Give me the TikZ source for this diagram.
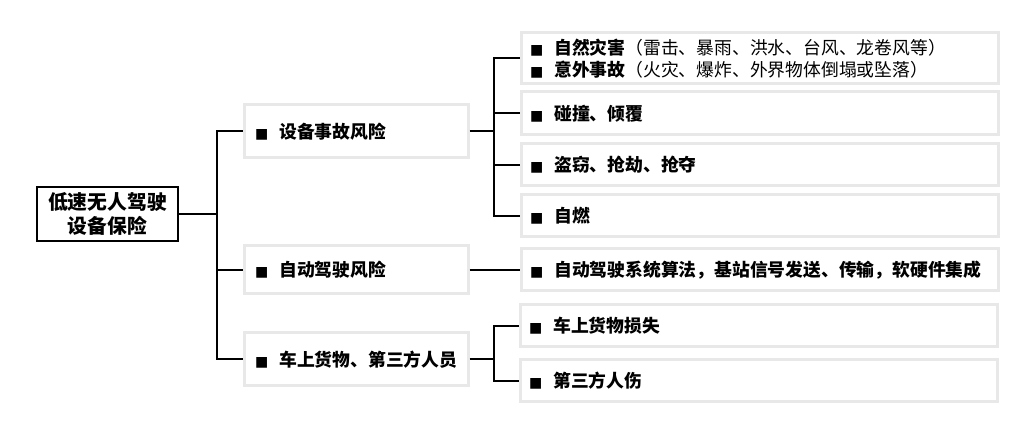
\documentclass[tikz,border=0pt]{standalone}
\usepackage{fontspec}
\setmainfont{Noto Sans CJK SC}
\newfontfamily\bulfont{DejaVu Sans}
\definecolor{boxgray}{HTML}{E8E8E8}
\newcommand{\mybul}{{\bulfont\fontsize{14}{14}\selectfont ■}\nobreak\hspace{11pt}\nobreak}
\begin{document}
\begin{tikzpicture}[x=1pt,y=-1pt,
  rootbox/.style={draw=black, line width=1.6pt, rectangle, inner sep=0pt,
    minimum width=141pt, minimum height=54pt, align=center,
    font=\fontsize{19.8}{24}\selectfont\bfseries},
  midbox/.style={draw=boxgray, line width=3pt, rectangle, inner xsep=11pt, inner ysep=0pt,
    text width=202pt, minimum height=#1, align=left,
    font=\fontsize{17.8}{22}\selectfont\bfseries},
  leafbox/.style={draw=boxgray, line width=3pt, rectangle, inner xsep=9pt, inner ysep=0pt,
    text width=459pt, minimum height=#1, align=left,
    font=\fontsize{17.8}{22}\selectfont\bfseries},
  conn/.style={draw=black, line width=2pt}]
\useasboundingbox (0,0) rectangle (1021,443);
\fill[white] (0,0) rectangle (1021,443);
% root
\node[rootbox] (root) at (107.5,214) {低速无人驾驶\\设备保险};
% level 1
\node[midbox=53pt] (b1) at (356,131.5) {\mybul 设备事故风险};
\node[midbox=48pt] (b2) at (356,270) {\mybul 自动驾驶风险};
\node[midbox=53pt] (b3) at (356,359.5) {\mybul 车上货物、第三方人员};
% leaves
\node[leafbox=51pt] (l1) at (759.5,58.5) {\mybul 自然灾害{\mdseries（雷击、暴雨、洪水、台风、龙卷风等）}\\\mybul 意外事故{\mdseries（火灾、爆炸、外界物体倒塌或坠落）}};
\node[leafbox=43pt] (l2) at (759.5,113.5) {\mybul 碰撞、倾覆};
\node[leafbox=42pt] (l3) at (759.5,165) {\mybul 盗窃、抢劫、抢夺};
\node[leafbox=42pt] (l4) at (759.5,216) {\mybul 自燃};
\node[leafbox=42pt] (l5) at (759.5,270) {\mybul 自动驾驶系统算法，基站信号发送、传输，软硬件集成};
\node[leafbox=42pt] (l6) at (758.5,326) {\mybul 车上货物损失};
\node[leafbox=42pt] (l7) at (758.5,381) {\mybul 第三方人伤};
% spines
\coordinate (s1) at (217,214);
\coordinate (s2) at (494,131.5);
\coordinate (s3) at (494,359.5);
\draw[conn] (root.east) -- (s1);
\draw[conn] (b1.west) -| (s1);
\draw[conn] (b2.west) -| (s1);
\draw[conn] (b3.west) -| (s1);
\draw[conn] (b1.east) -- (s2);
\draw[conn] (l1.west) -| (s2);
\draw[conn] (l2.west) -| (s2);
\draw[conn] (l3.west) -| (s2);
\draw[conn] (l4.west) -| (s2);
\draw[conn] (b2.east) -- (l5.west);
\draw[conn] (b3.east) -- (s3);
\draw[conn] (l6.west) -| (s3);
\draw[conn] (l7.west) -| (s3);
\end{tikzpicture}
\end{document}
